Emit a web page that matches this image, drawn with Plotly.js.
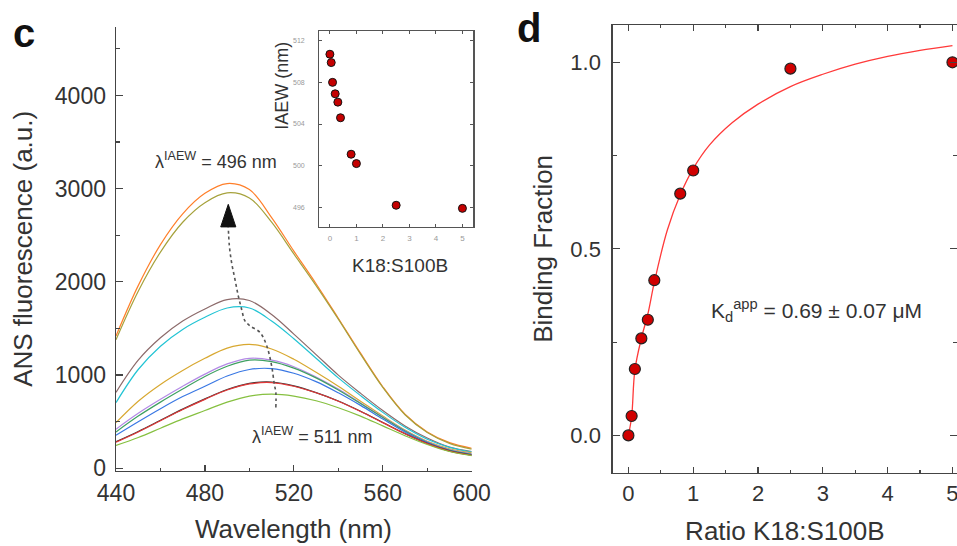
<!DOCTYPE html>
<html>
<head>
<meta charset="utf-8">
<script src="https://cdn.plot.ly/plotly-3.0.1.min.js"></script>
<style>html,body{margin:0;padding:0;background:#fff;}#chart{width:957px;height:546px;}</style>
</head>
<body>
<div id="chart"></div>
<script>
// ---- Panel c: ANS emission spectra ----
const wavelength = [440,450,460,470,480,490,500,510,520,530,540,550,560,570,580,590,600];
const specOrange = [1420,1960,2400,2730,2950,3055,2990,2690,2330,1980,1610,1235,875,580,390,275,215];
const specOlive  = [1380,1900,2320,2640,2850,2955,2900,2640,2300,1960,1600,1225,868,575,385,268,205];
const specBrown  = [815,1160,1400,1580,1710,1810,1800,1650,1440,1220,1000,805,620,455,325,228,180];
const specCyan   = [705,1060,1310,1490,1620,1720,1720,1580,1390,1180,970,780,600,440,312,225,175];
const specGold   = [490,720,900,1050,1180,1290,1330,1280,1170,1030,880,720,560,410,290,210,165];
const specPurple = [420,590,740,880,1010,1120,1180,1160,1090,980,850,700,550,405,285,200,155];
const specGreen  = [390,560,710,850,985,1095,1160,1145,1075,970,840,695,545,400,280,195,150];
const specBlue   = [355,500,640,770,880,990,1060,1070,1020,930,810,675,530,390,275,190,145];
const specBlack  = [285,395,515,635,745,845,912,926,885,812,722,612,492,372,267,187,142];
const specRed    = [280,390,510,630,740,840,905,920,880,810,720,610,490,370,265,185,140];
const specLime   = [245,330,430,530,620,710,775,795,775,725,650,560,455,350,255,180,135];
const spectra = [
  {name:'orange', y:specOrange, color:'#ff7f2a'},
  {name:'olive',  y:specOlive,  color:'#a6a23c'},
  {name:'brown',  y:specBrown,  color:'#8c6a6a'},
  {name:'cyan',   y:specCyan,   color:'#22c4d4'},
  {name:'gold',   y:specGold,   color:'#d8a830'},
  {name:'purple', y:specPurple, color:'#b48ae6'},
  {name:'green',  y:specGreen,  color:'#3fa062'},
  {name:'blue',   y:specBlue,   color:'#3a78e4'},
  {name:'black',  y:specBlack,  color:'#333333'},
  {name:'red',    y:specRed,    color:'#e23838'},
  {name:'lime',   y:specLime,   color:'#86c040'}
];
// dotted arrow path (decoration) in data units
const arrowPathX = [511.9,511.9,511.2,510.0,507.8,504.8,500.3,498.0,496.5,495.0,493.5,492.0,491.0,490.5];
const arrowPathY = [653,814,903,1100,1314,1457,1528,1582,1707,1850,2028,2207,2385,2590];
const arrowHeadX = [487.1,493.9,490.5,487.1];
const arrowHeadY = [2590,2590,2832,2590];

// ---- Inset and panel d: titration ----
const ratio    = [0,0.05,0.1,0.2,0.3,0.4,0.8,1.0,2.5,5.0];
const iaew     = [510.7,509.9,508.0,506.9,506.1,504.6,501.1,500.2,496.2,495.9];
const bindFrac = [0,0.052,0.178,0.26,0.31,0.416,0.648,0.71,0.983,1.0];
const fitX = [0,0.05,0.1,0.2,0.3,0.4,0.6,0.8,1.0,1.25,1.6,2.0,2.5,3.0,3.5,4.0,4.5,5.0];
const fitY = [0,0.05,0.175,0.26,0.325,0.41,0.55,0.645,0.715,0.778,0.838,0.888,0.935,0.968,0.995,1.016,1.032,1.045];

const W = 957, H = 546;
const px = v => v / W;
const py = v => 1 - v / H;
const FONT = 'Liberation Sans, Arial, Helvetica, sans-serif';
const TXT = '#333333';
const AX = '#444444';

const traces = [];
spectra.forEach(s => {
  traces.push({x: wavelength, y: s.y, type:'scatter', mode:'lines', name:s.name,
    line:{color:s.color, width:1.2, shape:'spline', smoothing:1}, xaxis:'x', yaxis:'y', hoverinfo:'skip'});
});
traces.push({x: arrowPathX, y: arrowPathY, type:'scatter', mode:'lines', name:'arrow',
  line:{color:'#555', width:1.6, dash:'dot', shape:'spline'}, xaxis:'x', yaxis:'y', hoverinfo:'skip'});
traces.push({x: arrowHeadX, y: arrowHeadY, type:'scatter', mode:'lines', fill:'toself', name:'arrowhead',
  fillcolor:'#111', line:{color:'#111', width:1}, xaxis:'x', yaxis:'y', hoverinfo:'skip'});
// inset
traces.push({x: ratio, y: iaew, type:'scatter', mode:'markers', name:'IAEW',
  marker:{color:'#c40000', size:8, line:{color:'#111', width:1}}, xaxis:'x2', yaxis:'y2', cliponaxis:false});
// panel d
traces.push({x: fitX, y: fitY, type:'scatter', mode:'lines', name:'fit',
  line:{color:'#ff3a3a', width:1.3, shape:'spline', smoothing:1}, xaxis:'x3', yaxis:'y3'});
traces.push({x: ratio, y: bindFrac, type:'scatter', mode:'markers', name:'binding',
  marker:{color:'#d00000', size:11, line:{color:'#222', width:1.2}}, xaxis:'x3', yaxis:'y3', cliponaxis:false});

const layout = {
  width: W, height: H,
  margin: {l:0, r:0, t:0, b:0},
  paper_bgcolor: '#ffffff', plot_bgcolor: 'rgba(0,0,0,0)',
  showlegend: false,
  font: {family: FONT, color: TXT},
  xaxis: {
    domain: [px(116), px(471.7)], range: [440, 600], anchor: 'y',
    tick0: 440, dtick: 40, ticks: 'inside', ticklen: 6, tickwidth: 1.2, tickcolor: AX,
    minor: {ticks: 'inside', ticklen: 3, tick0: 440, dtick: 20, tickcolor: AX, tickwidth: 1.2},
    showline: true, linecolor: AX, linewidth: 1.4, showgrid: false, zeroline: false,
    tickfont: {size: 23, color: TXT, family: FONT}, ticklabelstandoff: 1, ticklabeloverflow: 'allow'
  },
  yaxis: {
    domain: [py(471), py(26.7)], range: [-29, 4738], anchor: 'x',
    tick0: 0, dtick: 1000, ticks: 'inside', ticklen: 7, tickwidth: 1.2, tickcolor: AX,
    minor: {ticks: 'inside', ticklen: 4, tick0: 0, dtick: 500, tickcolor: AX, tickwidth: 1.2},
    showline: true, linecolor: AX, linewidth: 1.4, showgrid: false, zeroline: false,
    tickfont: {size: 23, color: TXT, family: FONT}, ticklabelstandoff: 4,
    title: {text: 'ANS fluorescence (a.u.)', font: {size: 26, color: TXT, family: FONT}, standoff: 14}
  },
  xaxis2: {
    domain: [px(319.3), px(473.3)], range: [-0.40, 5.41], anchor: 'y2',
    tick0: 0, dtick: 1, ticks: 'inside', ticklen: 3, tickcolor: '#555', mirror: 'ticks',
    showline: true, linecolor: '#555', linewidth: 1.2, showgrid: false, zeroline: false,
    tickfont: {size: 8, color: '#999'}, ticklabelstandoff: 3
  },
  yaxis2: {
    domain: [py(226.7), py(30.7)], range: [494.14, 512.96], anchor: 'x2',
    tickvals: [496, 500, 504, 508, 512], ticks: 'inside', ticklen: 3, tickcolor: '#555', mirror: 'ticks',
    showline: true, linecolor: '#555', linewidth: 1.2, showgrid: false, zeroline: false,
    tickfont: {size: 7, color: '#999'}, ticklabelstandoff: 12
  },
  xaxis3: {
    domain: [px(612.7), 1], range: [-0.242, 5.07], anchor: 'y3',
    tick0: 0, dtick: 1, ticks: 'inside', ticklen: 6, tickwidth: 1.2, tickcolor: AX, mirror: 'ticks',
    minor: {ticks: 'inside', ticklen: 3, tick0: 0, dtick: 0.5, tickcolor: AX, tickwidth: 1.2},
    showline: true, linecolor: AX, linewidth: 1.4, showgrid: false, zeroline: false,
    tickfont: {size: 22, color: TXT, family: FONT}, ticklabelstandoff: 0, ticklabeloverflow: 'allow',
    title: {text: 'Ratio K18:S100B', font: {size: 26, color: TXT, family: FONT}, standoff: 17}
  },
  yaxis3: {
    domain: [py(472.7), py(25)], range: [-0.1, 1.1], anchor: 'x3',
    tickvals: [0, 0.5, 1.0], ticktext: ['0.0', '0.5', '1.0'],
    ticks: 'inside', ticklen: 7, tickwidth: 1.2, tickcolor: AX, mirror: 'ticks',
    minor: {ticks: 'inside', ticklen: 4, tick0: 0, dtick: 0.25, tickcolor: AX, tickwidth: 1.2},
    showline: true, linecolor: AX, linewidth: 1.4, showgrid: false, zeroline: false,
    tickfont: {size: 22, color: TXT, family: FONT}, ticklabelstandoff: 6,
    title: {text: 'Binding Fraction', font: {size: 26, color: TXT, family: FONT}, standoff: 10}
  },
  annotations: [
    {text: 'Wavelength (nm)', xref: 'paper', yref: 'paper', x: px(293), y: py(529), xanchor: 'center', yanchor: 'middle',
     showarrow: false, font: {size: 26, color: TXT, family: FONT}},
    {text: '<b>c</b>', xref: 'paper', yref: 'paper', x: px(23.5), y: py(33), xanchor: 'center', yanchor: 'middle',
     showarrow: false, font: {size: 40, color: '#111', family: FONT}},
    {text: '<b>d</b>', xref: 'paper', yref: 'paper', x: px(529), y: py(28), xanchor: 'center', yanchor: 'middle',
     showarrow: false, font: {size: 40, color: '#111', family: FONT}},
    {text: 'λ<sup>IAEW</sup> = 496 nm', xref: 'x', yref: 'y', x: 456.7, y: 3300, xanchor: 'left', yanchor: 'middle',
     showarrow: false, font: {size: 18, color: TXT, family: FONT}},
    {text: 'λ<sup>IAEW</sup> = 511 nm', xref: 'x', yref: 'y', x: 500.3, y: 357, xanchor: 'left', yanchor: 'middle',
     showarrow: false, font: {size: 18, color: TXT, family: FONT}},
    {text: 'IAEW (nm)', xref: 'paper', yref: 'paper', x: px(281.7), y: py(86), xanchor: 'center', yanchor: 'middle',
     textangle: -90, showarrow: false, font: {size: 18, color: TXT, family: FONT}},
    {text: 'K18:S100B', xref: 'paper', yref: 'paper', x: px(399.7), y: py(265), xanchor: 'center', yanchor: 'middle',
     showarrow: false, font: {size: 19, color: TXT, family: FONT}},
    {text: 'K<sub>d</sub><sup>app</sup> = 0.69 ± 0.07 μM', xref: 'paper', yref: 'paper', x: px(709), y: py(310), xanchor: 'left', yanchor: 'middle',
     showarrow: false, font: {size: 21, color: TXT, family: FONT}}
  ]
};

Plotly.newPlot('chart', traces, layout, {staticPlot: true, displayModeBar: false});
</script>
</body>
</html>
